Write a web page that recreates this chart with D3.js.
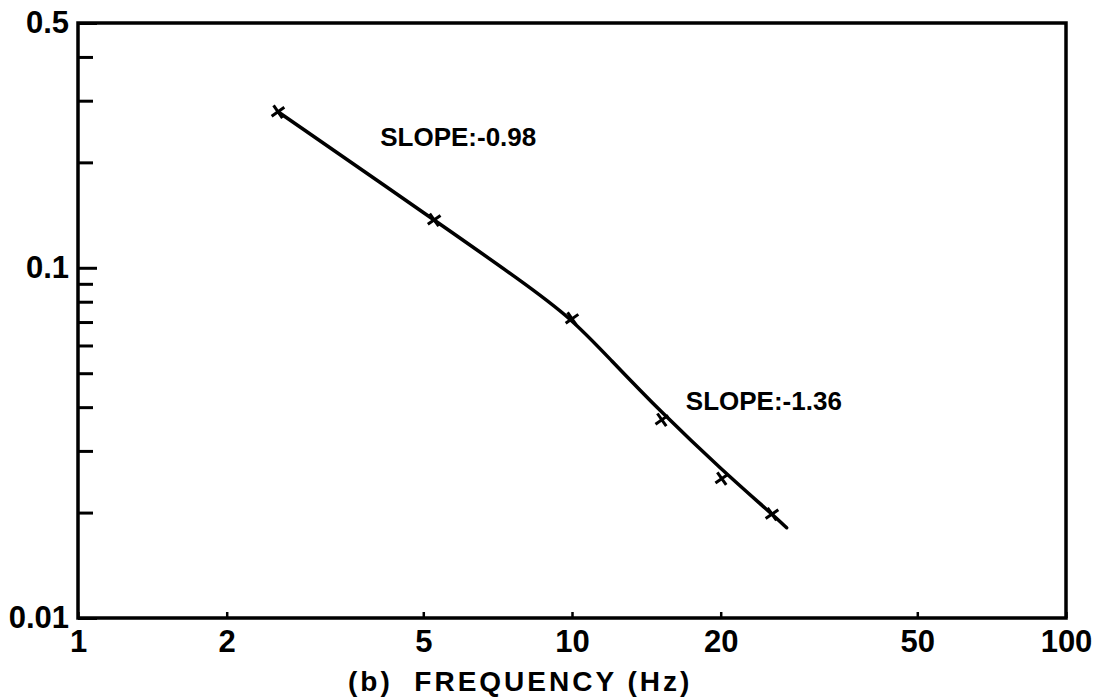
<!DOCTYPE html>
<html>
<head>
<meta charset="utf-8">
<script src="https://cdn.jsdelivr.net/npm/d3@7"></script>
<style>
  html, body { margin: 0; padding: 0; background: #fff; }
  svg { display: block; }
  text { font-family: "Liberation Sans", Arial, sans-serif; font-weight: bold; fill: #000; }
</style>
</head>
<body>
<svg id="chart" width="1103" height="700"></svg>
<script>
// ---- data ----
const measuredFreq = [2.54, 5.26, 10.0, 15.2, 20.1, 25.4];
const measuredValue = [0.279, 0.137, 0.0715, 0.0368, 0.0250, 0.0198];

const curveFreq = [2.54, 5.26, 7.96, 10.0, 11.9, 15.2, 20.1, 25.4, 27.2];
const curveValue = [0.279, 0.137, 0.0910, 0.0714, 0.0551, 0.0385, 0.0265, 0.0198, 0.0181];

const xTickValues = [1, 2, 5, 10, 20, 50, 100];
const xTickLabels = ["1", "2", "5", "10", "20", "50", "100"];
const yMajorValues = [0.5, 0.1, 0.01];
const yMajorLabels = ["0.5", "0.1", "0.01"];
const yMinorValues = [0.4, 0.3, 0.2, 0.09, 0.08, 0.07, 0.06, 0.05, 0.04, 0.03, 0.02];

const annotations = [
  { text: "SLOPE:-0.98", f: 4.09, v: 0.223 },
  { text: "SLOPE:-1.36", f: 17.0, v: 0.0393 }
];

// ---- layout ----
const plotLeft = 78, plotRight = 1066, plotTop = 23, plotBottom = 618;
const svg = d3.select("#chart");

const x = d3.scaleLog().domain([1, 100]).range([plotLeft, plotRight]);
const y = d3.scaleLog().domain([0.01, 0.5]).range([plotBottom, plotTop]);

const fontSize = 31;

// x axis
const xAxis = d3.axisBottom(x)
  .tickValues(xTickValues)
  .tickFormat((d, i) => xTickLabels[i])
  .tickSize(-6)
  .tickPadding(12);
const gx = svg.append("g").attr("transform", `translate(0,${plotBottom})`).call(xAxis);
gx.select(".domain").remove();
gx.selectAll(".tick line").attr("stroke", "#000").attr("stroke-width", 2.5);
gx.selectAll("text").style("font-size", fontSize + "px").attr("fill", "#000");

// y axis major
const yAxis = d3.axisLeft(y)
  .tickValues(yMajorValues)
  .tickFormat((d, i) => yMajorLabels[i])
  .tickSize(-19)
  .tickPadding(9);
const gy = svg.append("g").attr("transform", `translate(${plotLeft},0)`).call(yAxis);
gy.select(".domain").remove();
gy.selectAll(".tick line").attr("stroke", "#000").attr("stroke-width", 3);
gy.selectAll("text").style("font-size", fontSize + "px").attr("fill", "#000");

// y axis minor
const yMinor = d3.axisLeft(y)
  .tickValues(yMinorValues)
  .tickFormat("")
  .tickSize(-15);
const gym = svg.append("g").attr("transform", `translate(${plotLeft},0)`).call(yMinor);
gym.select(".domain").remove();
gym.selectAll(".tick line").attr("stroke", "#000").attr("stroke-width", 3);

// frame
svg.append("rect")
  .attr("x", plotLeft).attr("y", plotTop)
  .attr("width", plotRight - plotLeft).attr("height", plotBottom - plotTop)
  .attr("fill", "none").attr("stroke", "#000").attr("stroke-width", 3.5);

// fitted curve
const line = d3.line()
  .x(d => x(d[0]))
  .y(d => y(d[1]))
  .curve(d3.curveBasis);
svg.append("path")
  .datum(curveFreq.map((f, i) => [f, curveValue[i]]))
  .attr("d", line)
  .attr("fill", "none")
  .attr("stroke", "#000")
  .attr("stroke-width", 3.5)
  .attr("stroke-linecap", "round");

// markers
svg.selectAll("path.mark")
  .data(measuredFreq.map((f, i) => [f, measuredValue[i]]))
  .join("path")
  .attr("class", "mark")
  .attr("d", d3.symbol().type(d3.symbolX).size(80))
  .attr("transform", d => `translate(${x(d[0])},${y(d[1])}) rotate(10)`)
  .attr("fill", "none")
  .attr("stroke", "#000")
  .attr("stroke-width", 3);

// annotations
svg.selectAll("text.ann")
  .data(annotations)
  .join("text")
  .attr("class", "ann")
  .attr("x", d => x(d.f))
  .attr("y", d => y(d.v))
  .style("font-size", "26px")
  .text(d => d.text);

// x axis title
svg.append("text")
  .attr("x", 348)
  .attr("y", 691)
  .style("font-size", "28px")
  .style("letter-spacing", "3px")
  .attr("xml:space", "preserve")
  .text("(b)  FREQUENCY (Hz)");
</script>
</body>
</html>
